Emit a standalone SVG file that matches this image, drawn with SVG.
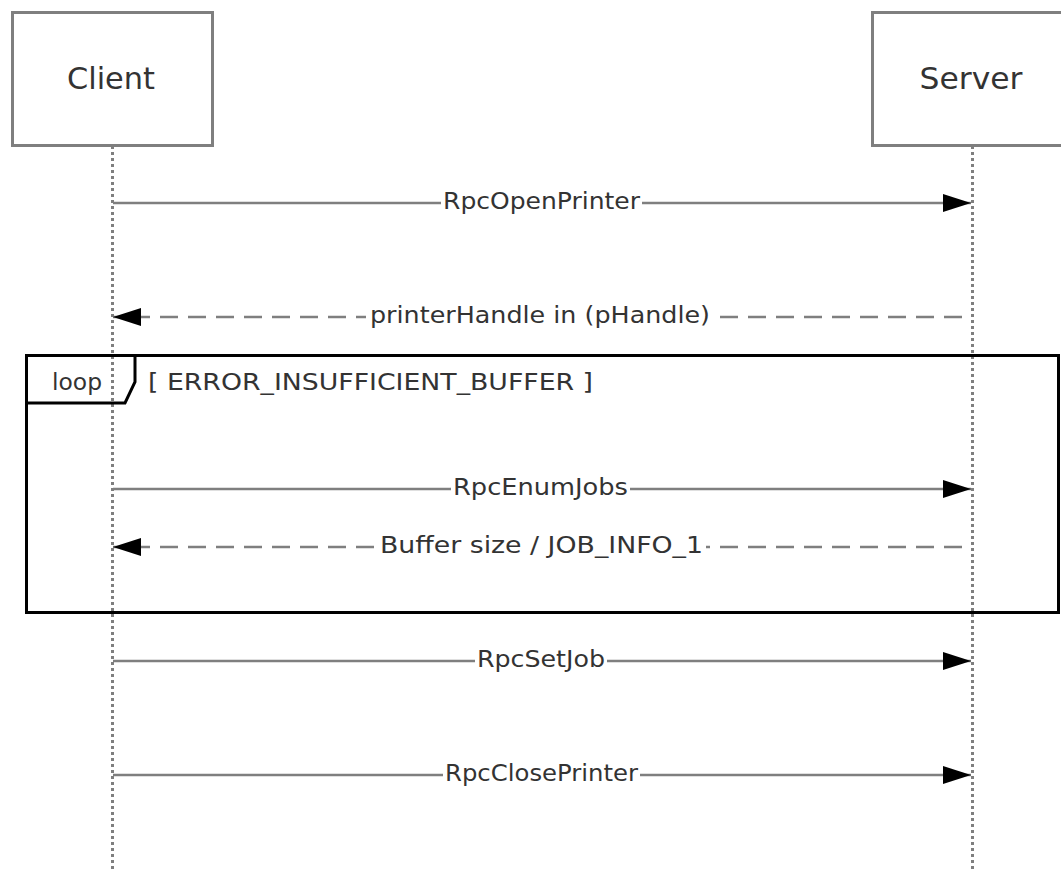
<svg xmlns="http://www.w3.org/2000/svg" width="1061" height="871" viewBox="0 0 1061 871">
<defs>
<style>
.box{fill:#fff;stroke:#7f7f7f;stroke-width:3}
.life{stroke:#7f7f7f;stroke-width:3;stroke-dasharray:3 3;fill:none}
.msg{stroke:#7f7f7f;stroke-width:2.5;fill:none}
.ret{stroke:#7f7f7f;stroke-width:2.5;fill:none;stroke-dasharray:18 10}
.frame{fill:none;stroke:#000;stroke-width:3}
.t{font-family:"DejaVu Sans",Verdana,sans-serif;fill:#333}
.lbl{font-size:23.5px;text-anchor:middle}
.bg{fill:#fff}
</style>
<marker id="ah" markerWidth="28" markerHeight="18" refX="28" refY="9" orient="auto" markerUnits="userSpaceOnUse">
<path d="M0,0 L28,9 L0,18 Z" fill="#000"/>
</marker>
</defs>
<rect width="1061" height="871" fill="#fff"/>
<g id="client">
<rect class="box" x="12.5" y="12.5" width="200" height="133"/>
<text class="t" x="111" y="89" font-size="30" text-anchor="middle" textLength="88" lengthAdjust="spacingAndGlyphs">Client</text>
<line class="life" x1="112.5" y1="146" x2="112.5" y2="871"/>
</g>
<g id="server">
<rect class="box" x="872.5" y="12.5" width="200" height="133"/>
<text class="t" x="971" y="89" font-size="30" text-anchor="middle" textLength="103" lengthAdjust="spacingAndGlyphs">Server</text>
<line class="life" x1="972.5" y1="146" x2="972.5" y2="871"/>
</g>
<g id="loop">
<rect class="frame" x="26.5" y="355.5" width="1032" height="257"/>
<path class="frame" d="M26.5,403 L125,403 L135,382 L135,355.5"/>
<text class="t" x="52" y="390" font-size="23" textLength="50" lengthAdjust="spacingAndGlyphs">loop</text>
<text class="t" x="148" y="390" font-size="23" textLength="445" lengthAdjust="spacingAndGlyphs">[ ERROR_INSUFFICIENT_BUFFER ]</text>
</g>
<g id="connectors">
<line class="msg" x1="113" y1="203" x2="971" y2="203" marker-end="url(#ah)"/>
<rect class="bg" x="441" y="190" width="201" height="26"/>
<text class="t lbl" x="541.5" y="209" textLength="197" lengthAdjust="spacingAndGlyphs">RpcOpenPrinter</text>

<line class="ret" x1="962" y1="317" x2="113" y2="317" marker-end="url(#ah)"/>
<rect class="bg" x="366" y="304" width="348" height="26"/>
<text class="t lbl" x="540" y="323" textLength="340" lengthAdjust="spacingAndGlyphs">printerHandle in (pHandle)</text>

<line class="msg" x1="113" y1="489" x2="971" y2="489" marker-end="url(#ah)"/>
<rect class="bg" x="451" y="476" width="179" height="26"/>
<text class="t lbl" x="540.5" y="495" textLength="175" lengthAdjust="spacingAndGlyphs">RpcEnumJobs</text>

<line class="ret" x1="962" y1="547" x2="113" y2="547" marker-end="url(#ah)"/>
<rect class="bg" x="377" y="534" width="329" height="26"/>
<text class="t lbl" x="541.5" y="553" textLength="323" lengthAdjust="spacingAndGlyphs">Buffer size / JOB_INFO_1</text>

<line class="msg" x1="113" y1="661" x2="971" y2="661" marker-end="url(#ah)"/>
<rect class="bg" x="475" y="648" width="132" height="26"/>
<text class="t lbl" x="541" y="667" textLength="128" lengthAdjust="spacingAndGlyphs">RpcSetJob</text>

<line class="msg" x1="113" y1="775" x2="971" y2="775" marker-end="url(#ah)"/>
<rect class="bg" x="443" y="762" width="197" height="26"/>
<text class="t lbl" x="541.5" y="781" textLength="193" lengthAdjust="spacingAndGlyphs">RpcClosePrinter</text>
</g>
</svg>
